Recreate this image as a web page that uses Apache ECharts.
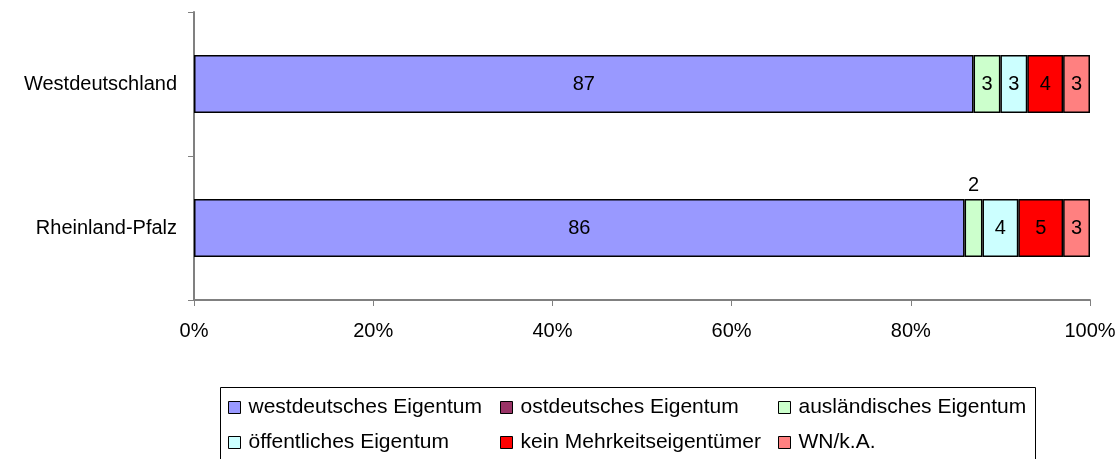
<!DOCTYPE html>
<html>
<head>
<meta charset="utf-8">
<script src="https://cdn.jsdelivr.net/npm/echarts@6/dist/echarts.min.js"></script>
<style>
  html, body { margin: 0; padding: 0; background: #fff; }
  #chart { width: 1120px; height: 459px; }
</style>
</head>
<body>
<div id="chart"></div>
<script>
// Regionen (von oben nach unten)
const regions = ['Westdeutschland', 'Rheinland-Pfalz'];

// Anteile in %, je Eigentumsform
const westdeutsch = [87, 86];
const ostdeutsch = [0, 0];
const auslaendisch = [3, 2];
const oeffentlich = [3, 4];
const keinMehrheit = [4, 5];
const wnKA = [3, 3];

const xTicks = [0, 20, 40, 60, 80, 100];

const seriesDefs = [
  { name: 'westdeutsches Eigentum', values: westdeutsch, color: '#9999FF' },
  { name: 'ostdeutsches Eigentum', values: ostdeutsch, color: '#993366' },
  { name: 'ausländisches Eigentum', values: auslaendisch, color: '#CCFFCC' },
  { name: 'öffentliches Eigentum', values: oeffentlich, color: '#CCFFFF' },
  { name: 'kein Mehrkeitseigentümer', values: keinMehrheit, color: '#FF0000' },
  { name: 'WN/k.A.', values: wnKA, color: '#FF8080' }
];

const font = "'Liberation Sans', Arial, sans-serif";

let chart = echarts.init(document.getElementById('chart'));

// Datenpunkt: 0 ohne Rahmen, zu schmale Segmente mit Zahl oberhalb
function toItem(v) {
  if (v === 0) return { value: v, itemStyle: { borderWidth: 0 } };
  if (v < 3) return { value: v, label: { position: 'top', distance: 4 } };
  return v;
}

let series = seriesDefs.map(s => ({
  name: s.name,
  type: 'bar',
  stack: 'total',
  barWidth: 58,
  itemStyle: { color: s.color, borderColor: '#000', borderWidth: 1.5 },
  label: {
    show: true,
    position: 'inside',
    color: '#000',
    fontSize: 20,
    fontFamily: font,
    formatter: p => (p.value > 0 ? p.value : '')
  },
  data: s.values.map(toItem),
  emphasis: { disabled: true }
}));

let legendText = { fontSize: 21, fontFamily: font, color: '#000', lineHeight: 21, padding: [0, 0, 0, 3] };
let legendBase = {
  orient: 'vertical',
  top: 397,
  padding: 0,
  itemWidth: 12,
  itemHeight: 12,
  itemGap: 14,
  icon: 'rect',
  selectedMode: false,
  itemStyle: { borderColor: '#000', borderWidth: 1 },
  textStyle: legendText
};

let option = {
  backgroundColor: '#fff',
  animation: false,
  grid: { left: 194, right: 30, top: 12, bottom: 159, containLabel: false },
  xAxis: {
    type: 'value',
    min: xTicks[0],
    max: xTicks[xTicks.length - 1],
    interval: 20,
    axisLine: { show: true, lineStyle: { color: '#808080', width: 2 } },
    axisTick: { show: true, length: 6, lineStyle: { color: '#808080', width: 1 } },
    axisLabel: {
      formatter: v => v + '%',
      fontSize: 20,
      fontFamily: font,
      color: '#000',
      margin: 21
    },
    splitLine: { show: false }
  },
  yAxis: {
    type: 'category',
    inverse: true,
    data: regions,
    axisLine: { show: true, lineStyle: { color: '#808080', width: 2 } },
    axisTick: { show: true, length: 6, lineStyle: { color: '#808080', width: 1 } },
    axisLabel: { fontSize: 20, fontFamily: font, color: '#000', margin: 17 }
  },
  legend: [
    Object.assign({}, legendBase, { left: 228, data: [seriesDefs[0].name, seriesDefs[3].name] }),
    Object.assign({}, legendBase, { left: 500, data: [seriesDefs[1].name, seriesDefs[4].name] }),
    Object.assign({}, legendBase, { left: 778, data: [seriesDefs[2].name, seriesDefs[5].name] })
  ],
  graphic: [{
    type: 'rect',
    shape: { x: 220.5, y: 387.5, width: 815, height: 100 },
    style: { fill: 'none', stroke: '#000', lineWidth: 1 },
    silent: true
  }],
  series: series
};

chart.setOption(option);
</script>
</body>
</html>
